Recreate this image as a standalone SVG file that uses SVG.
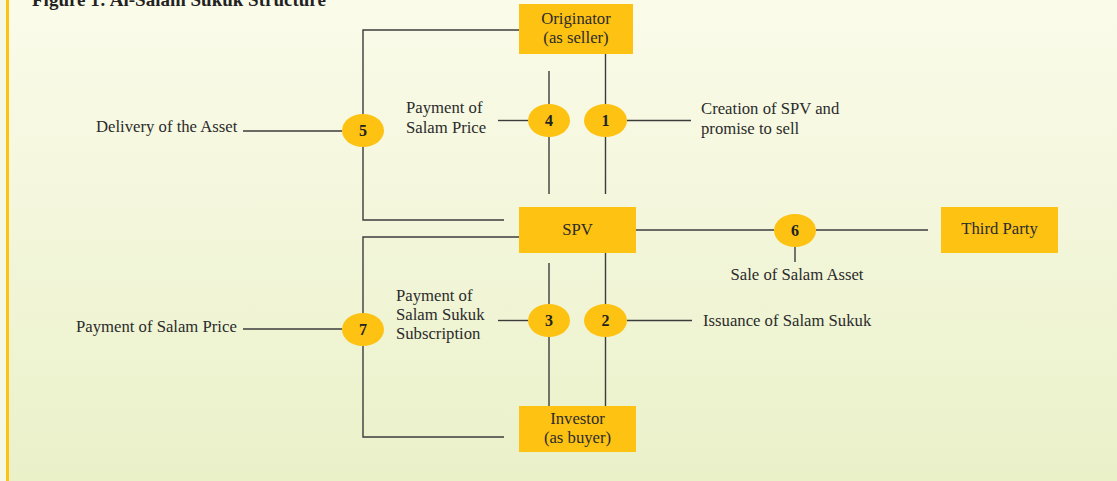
<svg xmlns="http://www.w3.org/2000/svg" width="1117" height="481" viewBox="0 0 1117 481">
<defs>
<linearGradient id="bg" x1="0" y1="0" x2="0" y2="1">
<stop offset="0" stop-color="#fbfbea"/>
<stop offset="1" stop-color="#eaf1c9"/>
</linearGradient>
<style>
.box{fill:#fdc212;}
.ell{fill:#fdc212;}
.t{font-family:"Liberation Serif","Times New Roman",serif;font-size:16.7px;fill:#2b2b2b;}
.c{text-anchor:middle;}
.n{font-family:"Liberation Serif","Times New Roman",serif;font-size:16px;font-weight:bold;fill:#222;text-anchor:middle;}
.ln{fill:none;stroke:#3c3c3c;stroke-width:1.4;}
</style>
</defs>
<rect x="0" y="0" width="1117" height="481" fill="url(#bg)"/>
<rect x="0" y="0" width="6" height="481" fill="#f5f8e2"/>
<rect x="6" y="0" width="3" height="481" fill="#fdc212"/>
<text x="32" y="6" style="font-family:'Liberation Serif','Times New Roman',serif;font-size:19px;font-weight:bold;fill:#222;">Figure 1: Al-Salam Sukuk Structure</text>

<g id="connectors">
<polyline class="ln" points="519,30 363,30 363,114"/>
<polyline class="ln" points="363,147 363,220 504,220"/>
<line class="ln" x1="243" y1="131" x2="342" y2="131"/>
<line class="ln" x1="549" y1="71" x2="549" y2="104"/>
<line class="ln" x1="549" y1="137" x2="549" y2="194"/>
<line class="ln" x1="498" y1="120.5" x2="528" y2="120.5"/>
<line class="ln" x1="605.5" y1="54" x2="605.5" y2="104"/>
<line class="ln" x1="605.5" y1="137" x2="605.5" y2="194"/>
<line class="ln" x1="627" y1="120.5" x2="691" y2="120.5"/>
<polyline class="ln" points="519,237 363,237 363,313"/>
<polyline class="ln" points="363,346 363,437 504,437"/>
<line class="ln" x1="243" y1="329" x2="342" y2="329"/>
<line class="ln" x1="549" y1="263" x2="549" y2="304"/>
<line class="ln" x1="549" y1="337" x2="549" y2="406"/>
<line class="ln" x1="498" y1="320.5" x2="528" y2="320.5"/>
<line class="ln" x1="605.5" y1="253" x2="605.5" y2="304"/>
<line class="ln" x1="605.5" y1="337" x2="605.5" y2="406"/>
<line class="ln" x1="627" y1="320.5" x2="692" y2="320.5"/>
<line class="ln" x1="636" y1="230" x2="774" y2="230"/>
<line class="ln" x1="816" y1="230" x2="928" y2="230"/>
<line class="ln" x1="795" y1="247" x2="795" y2="262"/>
</g>

<g id="originator">
<rect class="box" x="519" y="4" width="114" height="50"/>
<text class="t c" x="576" y="24">Originator</text>
<text class="t c" x="576" y="43">(as seller)</text>
</g>
<g id="spv">
<rect class="box" x="519" y="207" width="117" height="46"/>
<text class="t c" x="577.5" y="235">SPV</text>
</g>
<g id="investor">
<rect class="box" x="519" y="406" width="117" height="46"/>
<text class="t c" x="577.5" y="424">Investor</text>
<text class="t c" x="577.5" y="443">(as buyer)</text>
</g>
<g id="third-party">
<rect class="box" x="941" y="207" width="117" height="46"/>
<text class="t c" x="999.5" y="234">Third Party</text>
</g>

<g id="step1">
<ellipse class="ell" cx="605.5" cy="120.5" rx="21.5" ry="16.5"/>
<text class="n" x="605.5" y="126">1</text>
<text class="t" x="701" y="114">Creation of SPV and</text>
<text class="t" x="701" y="134">promise to sell</text>
</g>
<g id="step2">
<ellipse class="ell" cx="605.5" cy="320.5" rx="21.5" ry="16.5"/>
<text class="n" x="605.5" y="326">2</text>
<text class="t" x="703" y="326">Issuance of Salam Sukuk</text>
</g>
<g id="step3">
<ellipse class="ell" cx="549" cy="320.5" rx="21" ry="16.5"/>
<text class="n" x="549" y="326">3</text>
<text class="t" x="396" y="301">Payment of</text>
<text class="t" x="396" y="320">Salam Sukuk</text>
<text class="t" x="396" y="339">Subscription</text>
</g>
<g id="step4">
<ellipse class="ell" cx="549" cy="120.5" rx="21" ry="16.5"/>
<text class="n" x="549" y="126">4</text>
<text class="t" x="406" y="113">Payment of</text>
<text class="t" x="406" y="133">Salam Price</text>
</g>
<g id="step5">
<ellipse class="ell" cx="363" cy="130.5" rx="21" ry="16.5"/>
<text class="n" x="363" y="136">5</text>
<text class="t" x="96" y="132">Delivery of the Asset</text>
</g>
<g id="step6">
<ellipse class="ell" cx="795" cy="230.5" rx="21" ry="16.5"/>
<text class="n" x="795" y="236">6</text>
<text class="t c" x="797" y="280">Sale of Salam Asset</text>
</g>
<g id="step7">
<ellipse class="ell" cx="363" cy="329.5" rx="21" ry="16.5"/>
<text class="n" x="363" y="335">7</text>
<text class="t" x="76" y="332">Payment of Salam Price</text>
</g>
</svg>
